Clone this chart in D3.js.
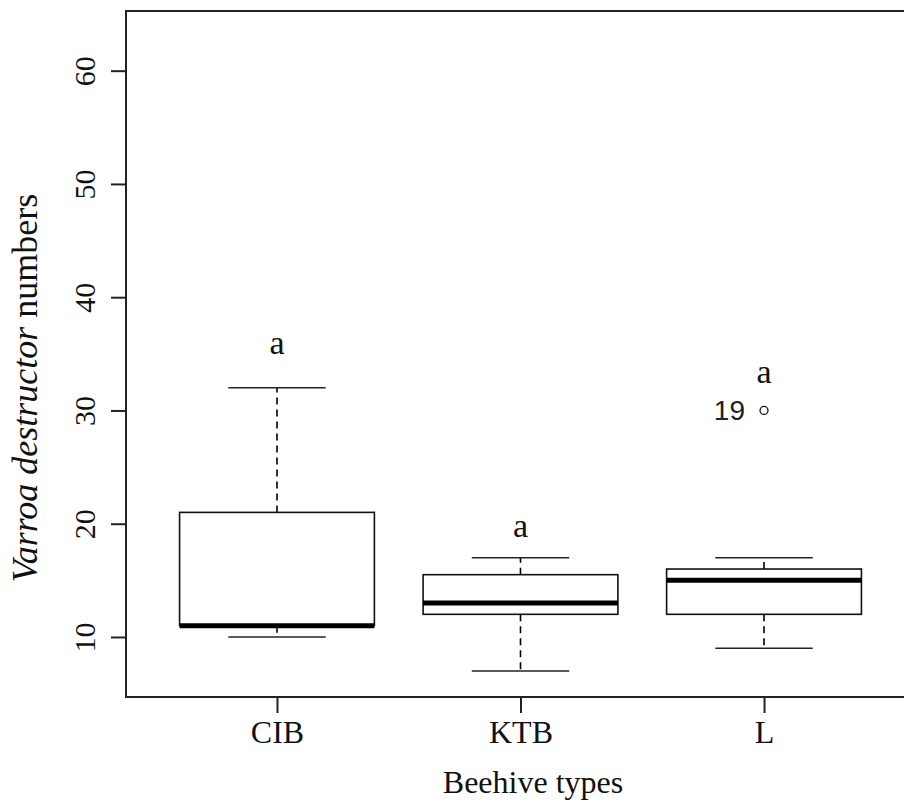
<!DOCTYPE html>
<html>
<head>
<meta charset="utf-8">
<script src="https://cdn.jsdelivr.net/npm/d3@7"></script>
<style>
  html, body { margin: 0; padding: 0; background: #fff; overflow: hidden; }
  svg { display: block; }
</style>
</head>
<body>
<script>
// ---- Data ----
const categories   = ["CIB", "KTB", "L"];
const whiskerLow   = [10, 7, 9];
const q1           = [11, 12, 12];
const median       = [11, 13, 15];
const q3           = [21, 15.5, 16];
const whiskerHigh  = [32, 17, 17];
const outlierCat   = ["L"];
const outlierValue = [30];
const outlierLabel = ["19"];
const letters      = ["a", "a", "a"];
const letterValue  = [35, 18.8, 32.4];
const yTicks       = [10, 20, 30, 40, 50, 60];

// ---- Layout ----
const W = 904, H = 808;
const serif = "'Liberation Serif', 'Times New Roman', serif";
const sans = "'Liberation Sans', Arial, sans-serif";

const svg = d3.select("body").append("svg")
  .attr("width", W).attr("height", H);

const x = d3.scaleLinear().domain([0.38, 3.62]).range([126, 915]);
const y = d3.scaleLinear().domain([4.7, 65.27]).range([697, 11]);
const boxW = x(1.4) - x(1.0); // half-width = 0.4 units

const data = categories.map((c, i) => ({
  cat: c, idx: i + 1,
  lo: whiskerLow[i], q1: q1[i], med: median[i], q3: q3[i], hi: whiskerHigh[i],
  letter: letters[i], letterV: letterValue[i]
}));

// ---- Boxes ----
const g = svg.append("g");
data.forEach(d => {
  const cx = x(d.idx);
  const gb = g.append("g");
  // whiskers (dashed)
  gb.append("line").attr("x1", cx).attr("x2", cx).attr("y1", y(d.q3)).attr("y2", y(d.hi))
    .attr("stroke", "#000").attr("stroke-width", 1.6).attr("stroke-dasharray", "7,5");
  gb.append("line").attr("x1", cx).attr("x2", cx).attr("y1", y(d.q1)).attr("y2", y(d.lo))
    .attr("stroke", "#000").attr("stroke-width", 1.6).attr("stroke-dasharray", "7,5");
  // staples
  [d.lo, d.hi].forEach(v => {
    gb.append("line").attr("x1", cx - boxW / 2).attr("x2", cx + boxW / 2)
      .attr("y1", y(v)).attr("y2", y(v))
      .attr("stroke", "#222").attr("stroke-width", 1.6);
  });
  // box
  gb.append("rect").attr("x", cx - boxW).attr("width", 2 * boxW)
    .attr("y", y(d.q3)).attr("height", y(d.q1) - y(d.q3))
    .attr("fill", "#fff").attr("stroke", "#111").attr("stroke-width", 1.6);
  // median
  gb.append("line").attr("x1", cx - boxW).attr("x2", cx + boxW)
    .attr("y1", y(d.med)).attr("y2", y(d.med))
    .attr("stroke", "#000").attr("stroke-width", 5);
  // significance letter
  gb.append("text").attr("x", cx).attr("y", y(d.letterV))
    .attr("text-anchor", "middle").attr("font-family", serif)
    .attr("font-size", 34).attr("fill", "#111").text(d.letter);
});

// ---- Outliers ----
outlierCat.forEach((c, i) => {
  const cx = x(categories.indexOf(c) + 1);
  const cy = y(outlierValue[i]);
  g.append("circle").attr("cx", cx).attr("cy", cy).attr("r", 4)
    .attr("fill", "none").attr("stroke", "#111").attr("stroke-width", 1.3);
  g.append("text").attr("x", cx - 19).attr("y", cy + 10)
    .attr("text-anchor", "end").attr("font-family", sans)
    .attr("font-size", 28).attr("fill", "#222").text(outlierLabel[i]);
});

// ---- Frame ----
svg.append("rect").attr("x", x.range()[0]).attr("y", y.range()[1])
  .attr("width", x.range()[1] - x.range()[0]).attr("height", y.range()[0] - y.range()[1])
  .attr("fill", "none").attr("stroke", "#222").attr("stroke-width", 2);

// ---- Axes ----
const yAxis = svg.append("g").attr("transform", `translate(${x.range()[0]},0)`)
  .call(d3.axisLeft(y).tickValues(yTicks).tickSize(15).tickPadding(0).tickFormat(d3.format("d")));
yAxis.select(".domain").remove();
yAxis.selectAll(".tick line").attr("stroke", "#222").attr("stroke-width", 2);
yAxis.selectAll(".tick text")
  .attr("transform", "rotate(-90)")
  .attr("x", 0).attr("y", -31).attr("dy", null).attr("dx", null)
  .attr("text-anchor", "middle")
  .attr("font-family", serif).attr("font-size", 30).attr("fill", "#111");

const xAxis = svg.append("g").attr("transform", `translate(0,${y.range()[0]})`)
  .call(d3.axisBottom(x).tickValues(categories.map((c, i) => i + 1))
    .tickFormat(v => categories[v - 1]).tickSize(16).tickPadding(0));
xAxis.select(".domain").remove();
xAxis.selectAll(".tick line").attr("stroke", "#222").attr("stroke-width", 2);
xAxis.selectAll(".tick text")
  .attr("y", 46).attr("dy", null)
  .attr("font-family", serif).attr("font-size", 32).attr("fill", "#111");

// ---- Titles ----
svg.append("text").attr("x", 533).attr("y", 793)
  .attr("text-anchor", "middle").attr("font-family", serif)
  .attr("font-size", 32).attr("fill", "#111").text("Beehive types");

const yt = svg.append("text")
  .attr("transform", "translate(37,388) rotate(-90)")
  .attr("text-anchor", "middle").attr("font-family", serif)
  .attr("font-size", 36).attr("fill", "#111");
yt.append("tspan").attr("font-style", "italic").text("Varroa destructor");
yt.append("tspan").text(" numbers");
</script>
</body>
</html>
